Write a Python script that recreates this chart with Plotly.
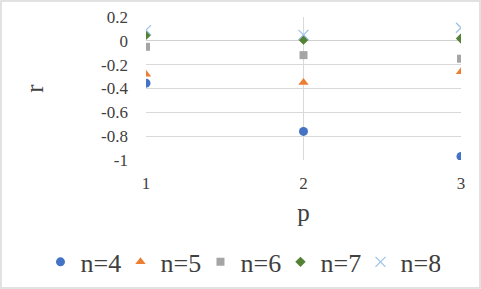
import plotly.graph_objects as go

p_values = [1, 2, 3]
n4 = [-0.355, -0.76, -0.97]
n5 = [-0.28, -0.35, -0.26]
n6 = [-0.05, -0.12, -0.15]
n7 = [0.05, 0.01, 0.02]
n8 = [0.09, 0.05, 0.11]
y_ticks = [-1, -0.8, -0.6, -0.4, -0.2, 0, 0.2]
y_labels = ["-1", "-0.8", "-0.6", "-0.4", "-0.2", "0", "0.2"]

series = [
    ("n=4", n4, "circle", "#4472C4", 9),
    ("n=5", n5, "triangle-up", "#ED7D31", 9),
    ("n=6", n6, "square", "#A5A5A5", 8),
    ("n=7", n7, "diamond", "#548235", 8),
    ("n=8", n8, "x-thin", "#9DC3E6", 10),
]

fig = go.Figure()
for name, vals, sym, col, sz in series:
    marker = dict(symbol=sym, color=col, size=sz)
    if sym == "x-thin":
        marker["line"] = dict(color=col, width=1.3)
    fig.add_trace(go.Scatter(x=p_values, y=vals, mode="markers", name=name, marker=marker))

font_family = "Liberation Serif, Times New Roman, serif"
fig.update_layout(
    width=481, height=289,
    margin=dict(l=146, r=20, t=17, b=129, autoexpand=False),
    paper_bgcolor="white", plot_bgcolor="white",
    font=dict(family=font_family, color="#404040", size=17),
    showlegend=True,
    legend=dict(orientation="h", x=-0.335, xanchor="left", y=-0.713, yanchor="middle",
                font=dict(size=26, family=font_family, color="#404040"),
                itemwidth=30, entrywidth=35, entrywidthmode="pixels", tracegroupgap=0),
    xaxis=dict(range=[1, 3], tickvals=p_values, showgrid=True, gridcolor="#D9D9D9",
               zeroline=False, showline=False, ticks="", ticklabelstandoff=11,
               tickfont=dict(size=17, family=font_family), automargin=False,
               title=dict(text="p", font=dict(size=25, family=font_family), standoff=11),
               fixedrange=True),
    yaxis=dict(range=[-1, 0.2], tickvals=y_ticks, ticktext=y_labels,
               showgrid=True, gridcolor="#D9D9D9", zeroline=True, zerolinecolor="#D0D0D0",
               zerolinewidth=1, showline=False, ticks="", ticklabelstandoff=17,
               tickfont=dict(size=17, family=font_family), automargin=False,
               title=dict(text="r", font=dict(size=25, family=font_family), standoff=50),
               fixedrange=True),
)
# outer chart border
fig.add_shape(type="rect", xref="paper", yref="paper",
              x0=-145/315, x1=1+19/315, y0=-128/143, y1=1+16/143,
              line=dict(color="#D9D9D9", width=1.5), layer="below")
fig.write_html("out.html", config={"displayModeBar": False},
               post_script="document.body.style.margin='0';document.body.style.overflow='hidden';")
